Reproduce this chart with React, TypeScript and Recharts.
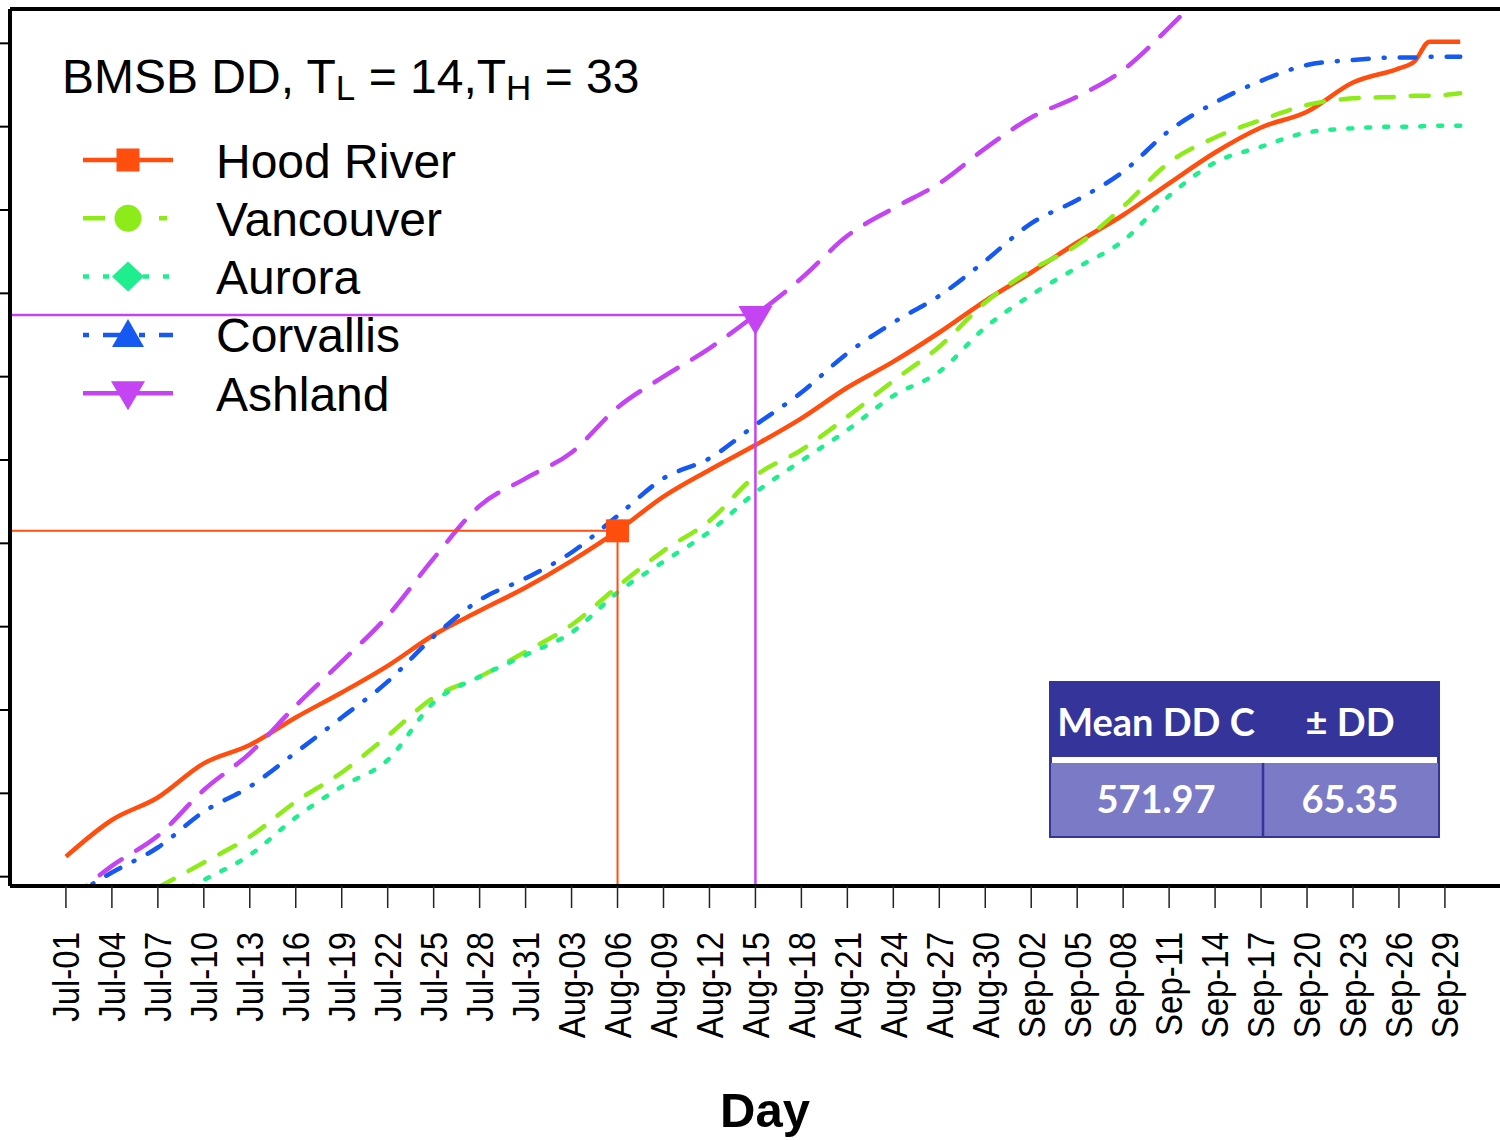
import React from 'react';
import { LineChart, Line, XAxis, YAxis, ReferenceLine, ReferenceDot } from 'recharts';

// day index (0 = Jul-01) of each reading
const days = [0, 3, 6, 9, 12, 15, 18, 21, 24, 27, 30, 33, 36, 39, 42, 45, 48, 51, 54, 57, 60, 63, 66, 69, 72, 75, 78, 81, 84, 87, 88, 89, 90, 91];

// cumulative degree days
const hoodRiver = [24, 68, 95, 136, 158, 191, 221, 253, 290, 319, 347, 379, 415, 456, 488, 518, 550, 587, 618, 653, 691, 725, 761, 794, 832, 869, 899, 918, 953, 970, 978, 1002, 1002, 1002];
const vancouver = [null, null, -13, 17, 48, 90, 125, 169, 215, 240, 270, 302, 348, 391, 427, 481, 512, 552, 595, 636, 689, 728, 758, 804, 857, 887, 908, 926, 934, 936, 937, 937, 938, 940];
const aurora = [null, null, -34, -4, 26, 71, 108, 140, 209, 240, 266, 293, 341, 378, 414, 461, 499, 536, 577, 606, 659, 698, 731, 763, 817, 857, 876, 893, 898, 900, 900, 901, 901, 901];
const corvallis = [-28, 5, 35, 78, 108, 149, 191, 234, 288, 332, 358, 389, 433, 478, 502, 542, 581, 628, 665, 697, 739, 784, 812, 846, 895, 929, 955, 974, 980, 983, 983, 984, 984, 984];
const ashland = [-32, 13, 49, 104, 148, 205, 258, 313, 382, 445, 478, 509, 563, 600, 634, 674, 718, 769, 802, 832, 874, 911, 936, 968, 1019, 1076, null, null, null, null, null, null, null, null];

const tickDays = [0, 3, 6, 9, 12, 15, 18, 21, 24, 27, 30, 33, 36, 39, 42, 45, 48, 51, 54, 57, 60, 63, 66, 69, 72, 75, 78, 81, 84, 87, 90];
const tickLabels = [
  'Jul-01', 'Jul-04', 'Jul-07', 'Jul-10', 'Jul-13', 'Jul-16', 'Jul-19', 'Jul-22', 'Jul-25', 'Jul-28', 'Jul-31',
  'Aug-03', 'Aug-06', 'Aug-09', 'Aug-12', 'Aug-15', 'Aug-18', 'Aug-21', 'Aug-24', 'Aug-27', 'Aug-30',
  'Sep-02', 'Sep-05', 'Sep-08', 'Sep-11', 'Sep-14', 'Sep-17', 'Sep-20', 'Sep-23', 'Sep-26', 'Sep-29',
];
const yTicks = [0, 100, 200, 300, 400, 500, 600, 700, 800, 900, 1000];

// marked days: Hood River on Aug-06, Ashland on Aug-15
const hoodMarkIndex = 12;
const ashMarkIndex = 15;

const tableHeader = ['Mean DD C', '± DD'];
const tableValues = ['571.97', '65.35'];

const X_MIN = -3.65;
const X_MAX = 94.9;
const Y_MIN = -11.2;
const Y_MAX = 1041.2;

const FONT = '"Liberation Sans", Arial, Helvetica, sans-serif';

const series = [
  { key: 'hoodRiver', name: 'Hood River', color: '#FF4E0E', dash: undefined, legendDash: undefined, marker: 'square' },
  { key: 'vancouver', name: 'Vancouver', color: '#8EEB1A', dash: '18 17', legendDash: '22 12 22 20 8 20', marker: 'circle' },
  { key: 'aurora', name: 'Aurora', color: '#1FEE8E', dash: '4 14', legendDash: '6 14', marker: 'diamond' },
  { key: 'corvallis', name: 'Corvallis', color: '#1559F2', dash: '16 15 1 15', legendDash: '6 14 22 14 6 14 20', marker: 'triangle' },
  { key: 'ashland', name: 'Ashland', color: '#C443F3', dash: '27 17', legendDash: undefined, marker: 'triangleDown' },
];

const rows = days.map((day, i) => ({
  day,
  hoodRiver: hoodRiver[i],
  vancouver: vancouver[i],
  aurora: aurora[i],
  corvallis: corvallis[i],
  ashland: ashland[i],
}));

function drawMarker(type: string, cx: number, cy: number, color: string) {
  switch (type) {
    case 'square':
      return <rect x={cx - 11.5} y={cy - 11.5} width={23} height={23} fill={color} />;
    case 'circle':
      return <circle cx={cx} cy={cy} r={13.5} fill={color} />;
    case 'diamond':
      return <polygon points={`${cx},${cy - 15} ${cx + 16},${cy} ${cx},${cy + 15} ${cx - 16},${cy}`} fill={color} />;
    case 'triangle':
      return <polygon points={`${cx},${cy - 16} ${cx + 16},${cy + 12} ${cx - 16},${cy + 12}`} fill={color} />;
    default:
      return <polygon points={`${cx - 17},${cy - 12} ${cx + 17},${cy - 12} ${cx},${cy + 17}`} fill={color} />;
  }
}

function DayTick(props: any) {
  const { x, y, payload } = props;
  const i = tickDays.indexOf(payload.value);
  return (
    <text
      transform={`translate(${x},${y + 22}) rotate(-90) scale(1,1.12)`}
      textAnchor="end"
      dy="0.36em"
      fontSize={33}
      fontFamily={FONT}
      fill="#000"
    >
      {tickLabels[i]}
    </text>
  );
}

const NoTick = () => <g />;

const HoodMark = (props: any) => drawMarker('square', props.cx, props.cy, series[0].color);
const AshMark = (props: any) => drawMarker('triangleDown', props.cx, props.cy + 3, series[4].color);

export default function App() {
  const hoodY = hoodRiver[hoodMarkIndex];
  const hoodX = days[hoodMarkIndex];
  const ashY = ashland[ashMarkIndex] as number;
  const ashX = days[ashMarkIndex];

  return (
    <div style={{ position: 'absolute', left: 0, top: 0, width: 1500, height: 1140, overflow: 'hidden', background: '#fff' }}>
      <LineChart width={1520} height={1140} data={rows} margin={{ top: 0, right: 0, bottom: 0, left: 0 }}>
        <XAxis
          dataKey="day"
          type="number"
          domain={[X_MIN, X_MAX]}
          ticks={tickDays}
          allowDataOverflow
          height={254}
          tickSize={22}
          tickLine={{ stroke: '#222', strokeWidth: 1.5 }}
          axisLine={{ stroke: '#000', strokeWidth: 4 }}
          tick={<DayTick />}
          interval={0}
          label={{ value: 'Day', position: 'insideBottom', offset: 13, fill: '#000', fontSize: 49, fontWeight: 700, fontFamily: FONT }}
        />
        <XAxis
          xAxisId="top"
          orientation="top"
          type="number"
          domain={[X_MIN, X_MAX]}
          allowDataOverflow
          height={9}
          tick={false}
          tickLine={false}
          axisLine={{ stroke: '#000', strokeWidth: 4 }}
        />
        <YAxis
          type="number"
          domain={[Y_MIN, Y_MAX]}
          ticks={yTicks}
          allowDataOverflow
          width={10}
          tickSize={10}
          tick={<NoTick />}
          tickLine={{ stroke: '#000', strokeWidth: 2 }}
          axisLine={{ stroke: '#000', strokeWidth: 4 }}
          interval={0}
        />
        {series.map((s) => (
          <Line
            key={s.key}
            dataKey={s.key}
            type="monotone"
            stroke={s.color}
            strokeWidth={4.5}
            strokeDasharray={s.dash}
            strokeLinecap={s.dash ? 'round' : 'butt'}
            dot={false}
            activeDot={false}
            isAnimationActive={false}
          />
        ))}
        <ReferenceLine segment={[{ x: X_MIN, y: hoodY }, { x: hoodX, y: hoodY }]} stroke={series[0].color} strokeWidth={2} />
        <ReferenceLine segment={[{ x: hoodX, y: hoodY }, { x: hoodX, y: Y_MIN }]} stroke={series[0].color} strokeWidth={2} />
        <ReferenceLine segment={[{ x: X_MIN, y: ashY }, { x: ashX, y: ashY }]} stroke={series[4].color} strokeWidth={2.5} />
        <ReferenceLine segment={[{ x: ashX, y: ashY }, { x: ashX, y: Y_MIN }]} stroke={series[4].color} strokeWidth={2.5} />
        <ReferenceDot x={hoodX} y={hoodY} r={12} shape={HoodMark} />
        <ReferenceDot x={ashX} y={ashY} r={14} shape={AshMark} />
      </LineChart>

      <svg width={1500} height={1140} style={{ position: 'absolute', left: 0, top: 0, pointerEvents: 'none' }}>
        <text x={62} y={93} fontSize={48} fontFamily={FONT} fill="#000">
          BMSB DD, T<tspan fontSize={35} dy={7}>L</tspan>
          <tspan dy={-7}> = 14,T</tspan>
          <tspan fontSize={35} dy={7}>H</tspan>
          <tspan dy={-7}> = 33</tspan>
        </text>

        {series.map((s, i) => {
          const cy = 160 + i * 58.3;
          return (
            <g key={s.key}>
              <line
                x1={83}
                x2={173}
                y1={cy}
                y2={cy}
                stroke={s.color}
                strokeWidth={4.5}
                strokeDasharray={s.legendDash}
              />
              {drawMarker(s.marker, 128, cy, s.color)}
              <text x={216} y={cy + 17.5} fontSize={48} fontFamily={FONT} fill="#000">
                {s.name}
              </text>
            </g>
          );
        })}

        <rect x={1049} y={681} width={391} height={157} fill="#35349A" />
        <rect x={1052} y={757} width={385} height={6} fill="#fff" />
        <rect x={1051} y={763} width={387} height={73} fill="#7A7AC6" />
        <line x1={1263} x2={1263} y1={763} y2={838} stroke="#35349A" strokeWidth={2.5} />
        <g fontFamily="Lato, 'Open Sans', sans-serif" fontWeight={700} fill="#fff" textAnchor="middle">
          <text x={1156} y={736} fontSize={38}>{tableHeader[0]}</text>
          <text x={1350} y={736} fontSize={38}>{tableHeader[1]}</text>
          <text x={1156} y={813} fontSize={38}>{tableValues[0]}</text>
          <text x={1350} y={813} fontSize={38}>{tableValues[1]}</text>
        </g>
      </svg>
    </div>
  );
}
